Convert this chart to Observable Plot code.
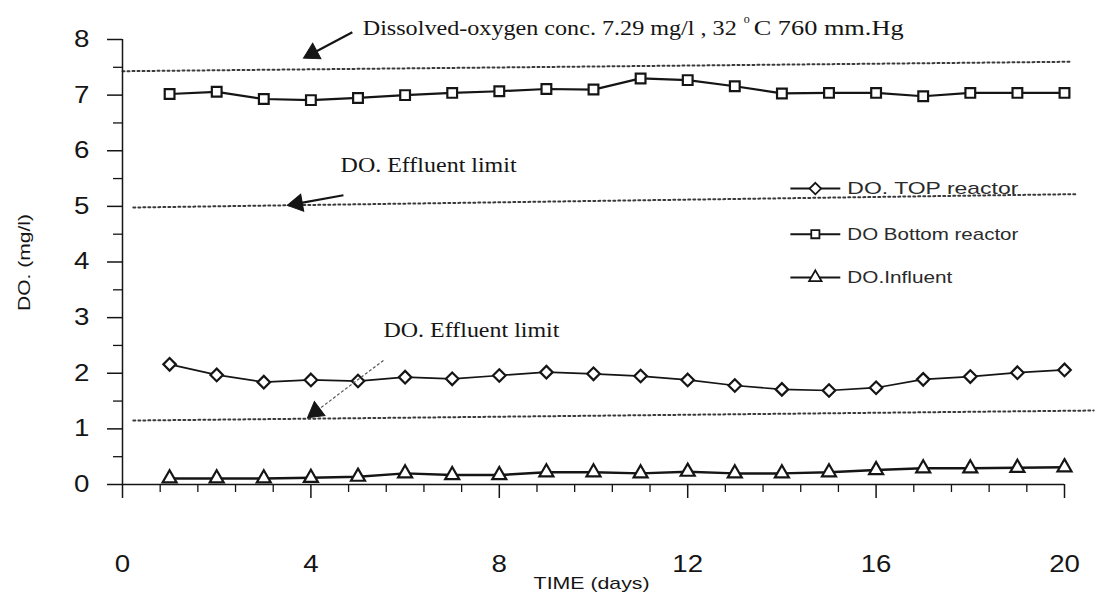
<!DOCTYPE html>
<html>
<head>
<meta charset="utf-8">
<script src="https://cdn.jsdelivr.net/npm/d3@7"></script>
<script src="https://cdn.jsdelivr.net/npm/@observablehq/plot@0.6"></script>
<style>
html, body { margin: 0; padding: 0; background: #fff; }
#chart { width: 1096px; height: 600px; }
</style>
</head>
<body>
<div id="chart"></div>
<script>
// ---------- data ----------
const days = [1, 2, 3, 4, 5, 6, 7, 8, 9, 10, 11, 12, 13, 14, 15, 16, 17, 18, 19, 20];
const doTop = [2.16, 1.97, 1.84, 1.88, 1.86, 1.93, 1.90, 1.96, 2.02, 1.99, 1.95, 1.88, 1.78, 1.71, 1.69, 1.74, 1.89, 1.94, 2.01, 2.06];
const doBottom = [7.02, 7.06, 6.93, 6.91, 6.95, 7.00, 7.04, 7.07, 7.11, 7.10, 7.30, 7.27, 7.16, 7.03, 7.04, 7.04, 6.98, 7.04, 7.04, 7.04];
const doInfluent = [0.11, 0.11, 0.11, 0.12, 0.14, 0.20, 0.17, 0.17, 0.22, 0.22, 0.20, 0.23, 0.20, 0.20, 0.22, 0.26, 0.29, 0.29, 0.30, 0.31];
const seriesNames = ["DO. TOP reactor", "DO Bottom reactor", "DO.Influent"];
const xTicks = [0, 4, 8, 12, 16, 20];
const xMinorTicks = [0.8, 1.6, 2.4, 3.2, 4.8, 5.6, 6.4, 7.2, 8.8, 9.6, 10.4, 11.2, 12.8, 13.6, 14.4, 15.2, 16.8, 17.6, 18.4, 19.2];
const yTicks = [0, 1, 2, 3, 4, 5, 6, 7, 8];
const yMinorTicks = [0.5, 1.5, 2.5, 3.5, 4.5, 5.5, 6.5, 7.5];
// dotted reference lines as drawn (x, y end points)
const refSaturationX = [0, 20.13], refSaturationY = [7.43, 7.60];
const refLimitUpperX = [0.23, 20.23], refLimitUpperY = [4.98, 5.22];
const refLimitLowerX = [0.23, 20.62], refLimitLowerY = [1.15, 1.33];
const xLabel = "TIME (days)";
const yLabel = "DO. (mg/l)";

// ---------- tables ----------
const rows = days.map((d, i) => ({day: d, top: doTop[i], bottom: doBottom[i], influent: doInfluent[i]}));
const refLine = (xs, ys) => xs.map((x, i) => ({x, y: ys[i]}));

const diamondSym = {
  draw(ctx, size) {
    const h = Math.sqrt(size / 2);
    ctx.moveTo(0, -h); ctx.lineTo(h, 0); ctx.lineTo(0, h); ctx.lineTo(-h, 0); ctx.closePath();
  }
};
const symbols = [diamondSym, "square", "triangle"];
const legendY = [5.32, 4.50, 3.72];
const legendItems = seriesNames.map((name, i) => ({name, sym: symbols[i], y: legendY[i]}));

const ink = "#151515";
const serif = "Liberation Serif, Times New Roman, serif";
const sans = "Liberation Sans, Arial, sans-serif";

const dotted = {x: "x", y: "y", stroke: "#3a3a3a", strokeWidth: 2, strokeDasharray: "2,3"};

const chart = Plot.plot({
  width: 1096,
  height: 600,
  marginLeft: 122,
  marginRight: 32,
  marginTop: 39,
  marginBottom: 116,
  style: {fontFamily: sans, color: ink, background: "white"},
  x: {domain: [0, 20], label: null},
  y: {domain: [0, 8], label: null},
  marks: [
    // reference lines
    Plot.line(refLine(refSaturationX, refSaturationY), dotted),
    Plot.line(refLine(refLimitUpperX, refLimitUpperY), dotted),
    Plot.line(refLine(refLimitLowerX, refLimitLowerY), dotted),
    // axes
    Plot.ruleY([0], {x1: 0, x2: 20, stroke: ink, strokeWidth: 1.5}),
    Plot.ruleX([0], {y1: 0, y2: 8, stroke: ink, strokeWidth: 1.5}),
    Plot.axisY({ticks: yTicks, tickSize: 15, tickPadding: 18, fontSize: 23, strokeWidth: 1.5, label: null, tickFormat: d => String(d)}),
    Plot.axisY({ticks: yMinorTicks, tickSize: 9, strokeWidth: 1.3, label: null, tickFormat: () => ""}),
    Plot.axisX({ticks: xTicks, tickSize: 14, tickPadding: 57, fontSize: 23, strokeWidth: 1.5, label: null, tickFormat: d => String(d)}),
    Plot.axisX({ticks: xMinorTicks, tickSize: 8, strokeWidth: 1.3, label: null, tickFormat: () => ""}),
    // series lines
    Plot.line(rows, {x: "day", y: "bottom", stroke: ink, strokeWidth: 2.2}),
    Plot.line(rows, {x: "day", y: "top", stroke: ink, strokeWidth: 1.7}),
    Plot.line(rows, {x: "day", y: "influent", stroke: ink, strokeWidth: 2.5}),
    // markers
    Plot.dot(rows, {x: "day", y: "bottom", symbol: "square", r: 5.5, fill: "white", stroke: ink, strokeWidth: 2.2}),
    Plot.dot(rows, {x: "day", y: "top", symbol: diamondSym, r: 5, fill: "white", stroke: ink, strokeWidth: 2.2}),
    Plot.dot(rows, {x: "day", y: "influent", symbol: "triangle", r: 5.2, fill: "white", stroke: ink, strokeWidth: 2.2}),
    // legend
    Plot.link(legendItems, {x1: 14.18, x2: 15.24, y1: "y", y2: "y", stroke: ink, strokeWidth: 2}),
    Plot.dot(legendItems, {x: 14.71, y: "y", symbol: "sym", r: 4.6, fill: "white", stroke: ink, strokeWidth: 1.8}),
    Plot.text(legendItems, {x: 15.39, y: "y", text: "name", textAnchor: "start", fontSize: 17, fill: "#2a2a2a"}),
    // annotations
    Plot.text([{x: 5.10, y: 8.20, t: "Dissolved-oxygen conc. 7.29 mg/l , 32"}, {x: 13.40, y: 8.20, t: "C 760 mm.Hg"}],
      {x: "x", y: "y", text: "t", textAnchor: "start", fontSize: 20, fontFamily: serif, fill: ink}),
    Plot.text([{x: 13.19, y: 8.36, t: "o"}], {x: "x", y: "y", text: "t", textAnchor: "start", fontSize: 12, fontFamily: serif, fill: ink}),
    Plot.text([{x: 4.63, y: 5.74, t: "DO. Effluent limit"}, {x: 5.54, y: 2.77, t: "DO. Effluent limit"}],
      {x: "x", y: "y", text: "t", textAnchor: "start", fontSize: 20, fontFamily: serif, fill: ink}),
    // arrows
    Plot.link([{x1: 4.88, y1: 8.13, x2: 4.03, y2: 7.75}, {x1: 4.69, y1: 5.20, x2: 3.71, y2: 5.05}],
      {x1: "x1", y1: "y1", x2: "x2", y2: "y2", stroke: ink, strokeWidth: 2.2}),
    Plot.link([{x1: 5.54, y1: 2.23, x2: 4.10, y2: 1.31}],
      {x1: "x1", y1: "y1", x2: "x2", y2: "y2", stroke: "#555", strokeWidth: 1.2, strokeDasharray: "3,2"}),
    Plot.dot([{x: 4.03, y: 7.75, a: 242}, {x: 3.71, y: 5.05, a: 260}, {x: 4.10, y: 1.31, a: 233}],
      {x: "x", y: "y", rotate: "a", symbol: "triangle", r: 6.5, fill: ink, stroke: ink, strokeWidth: 1}),
    // axis titles
    Plot.text([{x: 9.96, y: -1.78, t: xLabel}], {x: "x", y: "y", text: "t", fontSize: 17, fontFamily: "Liberation Sans Narrow, Arial Narrow, Liberation Sans, sans-serif", fill: ink}),
    Plot.text([{x: -2.08, y: 3.99, t: yLabel}], {x: "x", y: "y", text: "t", rotate: -90, fontSize: 17, fill: ink})
  ]
});

document.getElementById("chart").appendChild(chart);

// horizontal stretch of texts, as in the scanned original
const lens = new Map([
  ["Dissolved-oxygen conc. 7.29 mg/l , 32", 374],
  ["C 760 mm.Hg", 150],
  ["DO. Effluent limit", 176],
  ["DO. TOP reactor", 171],
  ["DO Bottom reactor", 171],
  ["DO.Influent", 105],
  [xLabel, 116],
  [yLabel, 97]
]);
chart.querySelectorAll("text").forEach(t => {
  const s = t.textContent;
  if (lens.has(s)) {
    t.setAttribute("textLength", lens.get(s));
    t.setAttribute("lengthAdjust", "spacingAndGlyphs");
  }
});
chart.querySelectorAll('g[aria-label="x-axis tick label"] text, g[aria-label="y-axis tick label"] text').forEach(t => {
  if (t.textContent) {
    const L = t.getComputedTextLength();
    t.setAttribute("textLength", (L * 1.2).toFixed(1));
    t.setAttribute("lengthAdjust", "spacingAndGlyphs");
  }
});
</script>
</body>
</html>
